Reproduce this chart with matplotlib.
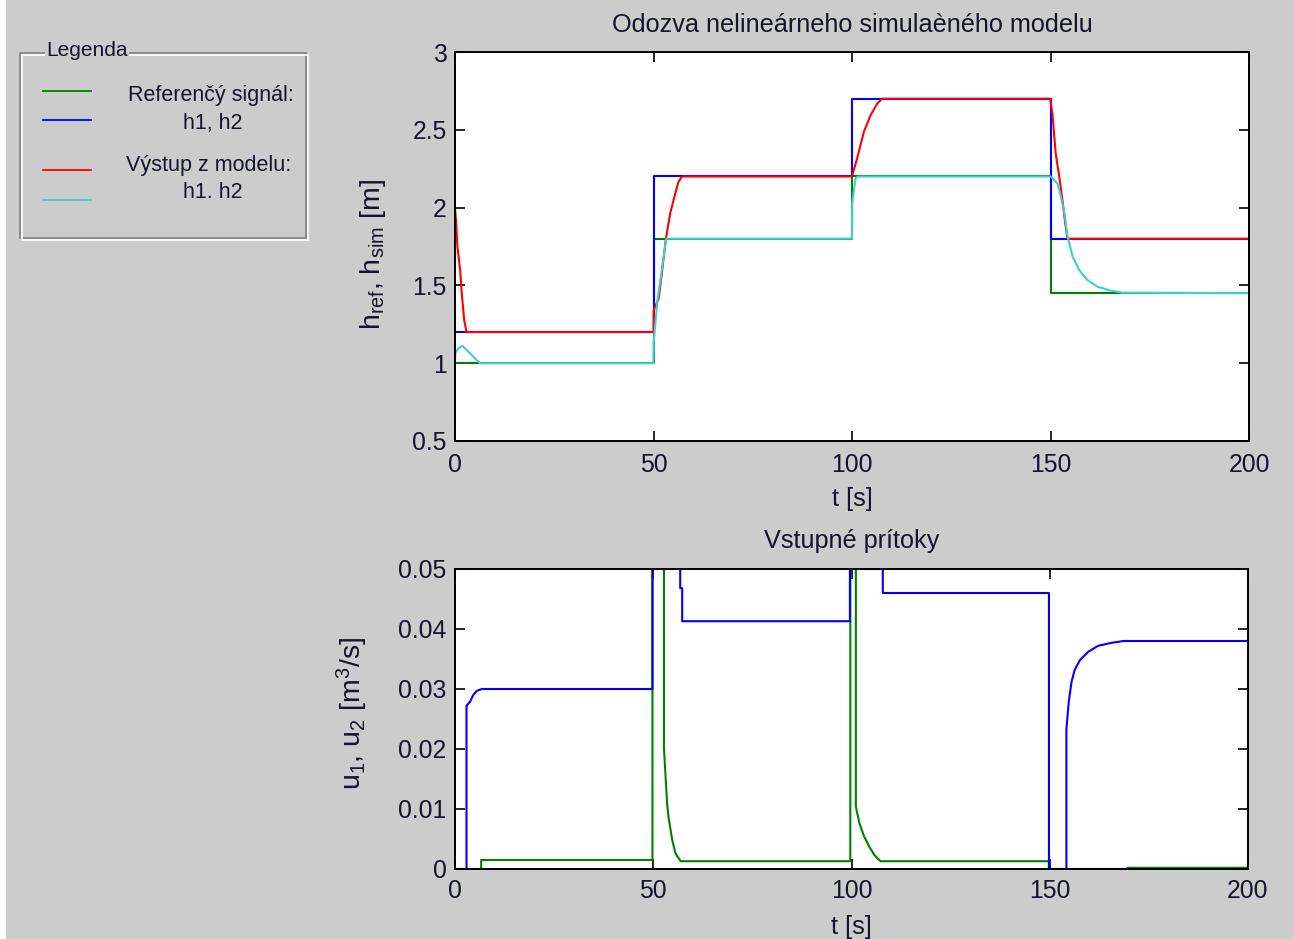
import matplotlib
matplotlib.use("Agg")
import matplotlib.pyplot as plt
from matplotlib.patches import Rectangle

plt.rcParams['font.family'] = ['Liberation Sans', 'DejaVu Sans']
plt.rcParams['mathtext.fontset'] = 'custom'
plt.rcParams['mathtext.rm'] = 'Liberation Sans'
plt.rcParams['mathtext.it'] = 'Liberation Sans:italic'

# ---------------- data ----------------
t_ref = [0, 50, 100, 150, 200]
h1_ref = [1.2, 2.2, 2.7, 1.8, 1.8]
h2_ref = [1.0, 1.8, 2.2, 1.45, 1.45]

h1_sim_t = [0, 0.3, 0.6, 1.3, 1.7, 2.3, 2.9, 50.0, 50.05, 51.3, 52.1, 53.1, 54.2, 55.5, 56.3, 57.2,
            100.0, 101.3, 103.0, 104.7, 106.4, 107.6, 149.9, 150.5, 151.3, 152.2, 153.0, 153.7, 154.3, 200]
h1_sim = [2.0, 1.9, 1.75, 1.6, 1.45, 1.28, 1.2, 1.2, 1.34, 1.417, 1.578, 1.796, 1.963, 2.092, 2.167, 2.2,
          2.2, 2.317, 2.488, 2.595, 2.67, 2.7, 2.7, 2.6, 2.35, 2.2, 2.05, 1.9, 1.8, 1.8]

h2_sim_t = [0, 0.1, 0.84, 1.93, 2.94, 4.2, 5.46, 6.3, 50.0, 50.05, 51.0, 52.1, 53.2,
            100.0, 100.05, 100.9, 101.5, 150.1, 151.7, 152.2, 153.4, 154.3, 155.6, 157.2, 159.3, 161.8, 165.2, 168.1, 200]
h2_sim = [1.0, 1.064, 1.096, 1.111, 1.085, 1.053, 1.02, 1.0, 1.0, 1.138, 1.406, 1.6, 1.8,
          1.8, 2.028, 2.188, 2.2, 2.2, 2.156, 2.113, 1.985, 1.813, 1.684, 1.599, 1.535, 1.492, 1.466, 1.453, 1.45]

u1_t = [0, 2.9, 2.9, 3.8, 4.6, 5.5, 6.8, 49.8, 49.8, 56.8, 56.8, 57.3, 57.3, 99.6, 99.6, 107.9, 107.9,
        149.8, 149.8, 154.2, 154.2, 154.8, 155.5, 156.3, 157.6, 159.7, 162.2, 165.6, 168.6, 200]
u1 = [0, 0, 0.0272, 0.0279, 0.029, 0.0297, 0.0300, 0.0300, 0.05, 0.05, 0.0468, 0.0468, 0.0413, 0.0413,
      0.05, 0.05, 0.046, 0.046, 0, 0, 0.0233, 0.0279, 0.0312, 0.0332, 0.0348, 0.0362, 0.0372, 0.0377, 0.0380, 0.0380]

u2_t = [0, 6.6, 6.6, 49.8, 49.8, 52.7, 52.7, 53.5, 53.9, 54.8, 55.6, 56.9, 99.7, 99.7, 101.1, 101.1,
        102.0, 103.2, 104.5, 105.8, 107.3, 149.8, 149.8, 169.6, 169.6, 200]
u2 = [0, 0, 0.0015, 0.0015, 0.05, 0.05, 0.0201, 0.0109, 0.0084, 0.0048, 0.0026, 0.0013, 0.0013, 0.05,
      0.05, 0.0104, 0.0076, 0.0054, 0.0037, 0.0023, 0.0013, 0.0013, 0, 0, 0.0002, 0.0002]

x_ticks = [0, 50, 100, 150, 200]
h_ticks = [0.5, 1, 1.5, 2, 2.5, 3]
h_ticklabels = ['0.5', '1', '1.5', '2', '2.5', '3']
u_ticks = [0, 0.01, 0.02, 0.03, 0.04, 0.05]
u_ticklabels = ['0', '0.01', '0.02', '0.03', '0.04', '0.05']

legend_labels = ['Referenčý signál:', 'h1, h2', 'Výstup z modelu:', 'h1. h2']

# ---------------- style ----------------
W, H = 1294, 939
BG = '#cccccc'
TXT = '#14142a'
C_G = '#008000'
C_B = '#0000ff'
C_R = '#ff0000'
C_C = '#3cd0d0'
FS = 17.8
LW = 1.5

fig = plt.figure(figsize=(W / 100, H / 100), dpi=100, facecolor=BG)

# background / legend panel in pixel coordinates
bg = fig.add_axes([0, 0, 1, 1], zorder=-5)
bg.set_xlim(0, W)
bg.set_ylim(H, 0)
bg.axis('off')
bg.add_patch(Rectangle((0, 0), 6, H, facecolor='white', edgecolor='none'))
bg.add_patch(Rectangle((20, 53), 286, 185, facecolor='none', edgecolor='#808080', lw=1.2))
bg.add_patch(Rectangle((21.5, 54.5), 286, 185, facecolor='none', edgecolor='white', lw=1.2))
bg.text(87, 50, 'Legenda', ha='center', va='center', fontsize=15, color=TXT,
        bbox=dict(facecolor=BG, edgecolor='none', pad=1))
leg_y = [91, 120, 170, 200]
leg_c = [C_G, C_B, C_R, C_C]
for yy, cc in zip(leg_y, leg_c):
    bg.plot([43, 91], [yy, yy], color=cc, lw=1.3)
leg_tx = [211, 213, 209, 213]
leg_ty = [96, 124, 165, 193]
for lab, xx, yy in zip(legend_labels, leg_tx, leg_ty):
    bg.text(xx, yy, lab, ha='center', va='center', fontsize=15.5, color=TXT)

def style(ax, xpad):
    ax.set_facecolor('white')
    for s in ax.spines.values():
        s.set_color('black')
        s.set_linewidth(1.4)
    ax.tick_params(direction='in', length=7, width=1.2, top=True, right=True,
                   labelsize=FS, labelcolor=TXT)
    ax.tick_params(axis='x', pad=xpad)
    ax.tick_params(axis='y', pad=6)

# ---------------- top axes ----------------
ax1 = fig.add_axes([455 / W, 1 - 441 / H, (1249 - 455) / W, (441 - 52) / H])
style(ax1, 9)
ax1.plot(t_ref, h2_ref, color=C_G, lw=LW, drawstyle='steps-post')
ax1.plot(t_ref, h1_ref, color=C_B, lw=LW, drawstyle='steps-post')
ax1.plot(h1_sim_t, h1_sim, color=C_R, lw=LW)
ax1.plot(h2_sim_t, h2_sim, color=C_C, lw=LW)
ax1.set_xlim(0, 200)
ax1.set_ylim(0.5, 3)
ax1.set_xticks(x_ticks)
ax1.set_xticklabels([str(v) for v in x_ticks])
ax1.set_yticks(h_ticks)
ax1.set_yticklabels(h_ticklabels)
ax1.set_title('Odozva nelineárneho simulaèného modelu', fontsize=18.2, color=TXT, pad=14.5)
ax1.set_xlabel('t [s]', fontsize=FS + 0.5, color=TXT)
ax1.xaxis.set_label_coords(0.5, -(487 - 441) / 389)
ax1.set_ylabel(r'h$_{\mathrm{ref}}$, h$_{\mathrm{sim}}$ [m]', fontsize=20.5, color=TXT)
ax1.yaxis.set_label_coords(-(455 - 388) / 794, 0.48)

# ---------------- bottom axes ----------------
ax2 = fig.add_axes([455 / W, 1 - 869 / H, (1248 - 455) / W, (869 - 569) / H])
style(ax2, 7)
ax2.plot(u2_t, u2, color=C_G, lw=LW)
ax2.plot(u1_t, u1, color=C_B, lw=LW)
ax2.set_xlim(0, 200)
ax2.set_ylim(0, 0.05)
ax2.set_xticks(x_ticks)
ax2.set_xticklabels([str(v) for v in x_ticks])
ax2.set_yticks(u_ticks)
ax2.set_yticklabels(u_ticklabels)
ax2.set_title('Vstupné prítoky', fontsize=18.2, color=TXT, pad=15)
ax2.set_xlabel('t [s]', fontsize=FS + 0.5, color=TXT)
ax2.xaxis.set_label_coords(0.5, -(915 - 869) / 300)
ax2.set_ylabel(r'u$_{1}$, u$_{2}$ [m$^{3}$/s]', fontsize=20.5, color=TXT)
ax2.yaxis.set_label_coords(-(455 - 370) / 793, 0.52)

fig.savefig('out.png', dpi=100, facecolor=BG)
